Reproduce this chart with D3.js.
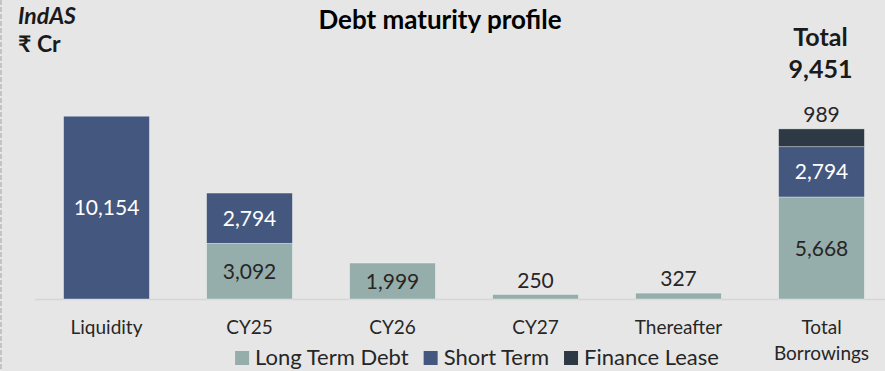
<!DOCTYPE html>
<html>
<head>
<meta charset="utf-8">
<script src="https://cdn.jsdelivr.net/npm/d3@7/dist/d3.min.js"></script>
<style>
  html, body { margin: 0; padding: 0; background: #e6e6e6; }
  svg { display: block; font-family: Lato, "Open Sans", sans-serif; }
</style>
</head>
<body>
<svg id="chart" width="885" height="371"></svg>
<script>
// Debt maturity profile (₹ Cr), stacked by debt type
const categories = ["Liquidity", "CY25", "CY26", "CY27", "Thereafter", "Total Borrowings"];
const categoryLines = [["Liquidity"], ["CY25"], ["CY26"], ["CY27"], ["Thereafter"], ["Total", "Borrowings"]];
const seriesNames = ["Long Term Debt", "Short Term", "Finance Lease"];
const longTermDebt = [0, 3092, 1999, 250, 327, 5668];
const shortTerm    = [10154, 2794, 0, 0, 0, 2794];
const financeLease = [0, 0, 0, 0, 0, 989];
const totalBorrowings = 9451;

const colors = { "Long Term Debt": "#96aeab", "Short Term": "#44587f", "Finance Lease": "#2d3a45" };
// label placement per segment: "in" = centred inside, "above" = over bar top
const labelMode = {
  "Long Term Debt": ["none", "in", "in", "above", "above", "in"],
  "Short Term":     ["in", "in", "none", "none", "none", "in"],
  "Finance Lease":  ["none", "none", "none", "none", "none", "above"]
};
const labelColor = { "Long Term Debt": "#262626", "Short Term": "#ffffff", "Finance Lease": "#262626" };

const rows = categories.map((c, i) => ({
  category: c,
  "Long Term Debt": longTermDebt[i],
  "Short Term": shortTerm[i],
  "Finance Lease": financeLease[i]
}));

const svg = d3.select("#chart");
const W = 885, H = 371;

// dashed frame edge on the left
svg.append("line")
  .attr("x1", 1).attr("x2", 1).attr("y1", 0).attr("y2", H)
  .attr("stroke", "#c4c4c4").attr("stroke-width", 2)
  .attr("stroke-dasharray", "5,2");

const x = d3.scaleBand().domain(categories).range([35, 893])
  .paddingInner(0.4).paddingOuter(0.2);
const baseline = 299;
const y = d3.scaleLinear().domain([0, 12000]).range([baseline, baseline - 216]);

const stack = d3.stack().keys(seriesNames)(rows);

// baseline axis
svg.append("line")
  .attr("x1", 35).attr("x2", W).attr("y1", baseline + 0.5).attr("y2", baseline + 0.5)
  .attr("stroke", "#d5d5d5").attr("stroke-width", 1.5);

const layers = svg.append("g").selectAll("g").data(stack).join("g")
  .attr("fill", d => colors[d.key]);

layers.selectAll("rect").data(d => d.map(s => ({ s, key: d.key })))
  .join("rect")
  .filter(d => d.s[1] - d.s[0] > 0)
  .attr("x", d => x(d.s.data.category))
  .attr("width", x.bandwidth())
  .attr("y", d => y(d.s[1]))
  .attr("height", d => y(d.s[0]) - y(d.s[1]))
  .attr("stroke", "rgba(255,255,255,0.45)")
  .attr("stroke-width", 0.75);

// value labels
const fmt = d3.format(",");
const labels = svg.append("g").attr("font-size", 21).attr("text-anchor", "middle");
stack.forEach(layer => {
  layer.forEach((s, i) => {
    const v = s[1] - s[0];
    const mode = labelMode[layer.key][i];
    if (v <= 0 || mode === "none") return;
    const cx = x(s.data.category) + x.bandwidth() / 2;
    if (mode === "in") {
      labels.append("text")
        .attr("x", cx).attr("y", (y(s[0]) + y(s[1])) / 2)
        .attr("dy", "0.36em")
        .attr("fill", labelColor[layer.key])
        .text(fmt(v));
    } else {
      labels.append("text")
        .attr("x", cx).attr("y", y(s[1]) - 7)
        .attr("fill", "#262626")
        .text(fmt(v));
    }
  });
});

// category labels
const cat = svg.append("g").attr("font-size", 19).attr("fill", "#262626").attr("text-anchor", "middle");
categories.forEach((c, i) => {
  const t = cat.append("text").attr("x", x(c) + x.bandwidth() / 2).attr("y", 334);
  categoryLines[i].forEach((ln, j) => {
    t.append("tspan").attr("x", x(c) + x.bandwidth() / 2).attr("dy", j === 0 ? 0 : 26).text(ln);
  });
});

// total above the last bar
const lastX = x(categories[5]) + x.bandwidth() / 2;
svg.append("text").attr("x", lastX - 1).attr("y", 46).attr("text-anchor", "middle")
  .attr("font-size", 25).attr("font-weight", 700).attr("fill", "#1a1a1a").text("Total");
svg.append("text").attr("x", lastX - 1).attr("y", 78).attr("text-anchor", "middle")
  .attr("font-size", 25).attr("font-weight", 700).attr("fill", "#1a1a1a").text(fmt(totalBorrowings));

// title and unit notes
svg.append("text").attr("x", 440).attr("y", 29).attr("text-anchor", "middle")
  .attr("font-size", 26).attr("font-weight", 700).attr("fill", "#000").text("Debt maturity profile");
svg.append("text").attr("x", 18).attr("y", 24).attr("font-size", 23)
  .attr("font-weight", 700).attr("font-style", "italic").attr("fill", "#1a1a1a").text("IndAS");
svg.append("text").attr("x", 18).attr("y", 52).attr("font-size", 23)
  .attr("font-weight", 700).attr("fill", "#1a1a1a").text("₹ Cr");

// legend
const legend = svg.append("g").attr("font-size", 22).attr("fill", "#262626");
let lx = 0;
seriesNames.forEach(name => {
  const g = legend.append("g").attr("transform", `translate(${lx},0)`);
  g.append("rect").attr("x", 0).attr("y", 351).attr("width", 14).attr("height", 14).attr("fill", colors[name]);
  const t = g.append("text").attr("x", 20).attr("y", 365).text(name);
  const w = t.node().getComputedTextLength();
  lx += 20 + w + 15;
});
const legendWidth = lx - 15;
legend.attr("transform", `translate(${477 - legendWidth / 2},0)`);
</script>
</body>
</html>
